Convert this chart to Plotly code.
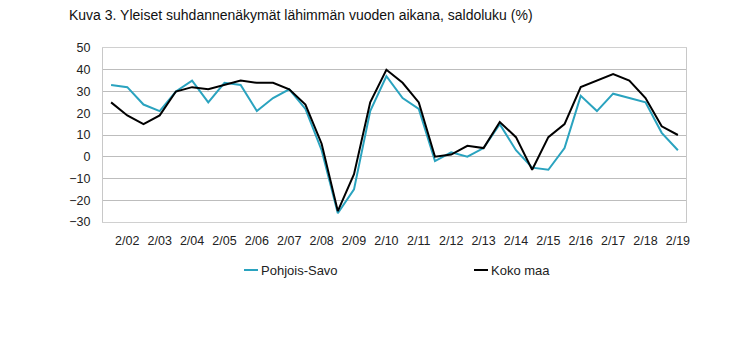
import plotly.graph_objects as go

# Survey rounds: August and February of each year, 8/01 ... 2/19
periods = ["8/01"]
for yr in range(2, 20):
    periods.append(f"2/{yr:02d}")
    if yr < 19:
        periods.append(f"8/{yr:02d}")

# Balance figures (%) for the next 12 months outlook
pohjois_savo = [33, 32, 24, 21, 30, 35, 25, 34, 33, 21, 27, 31,
                22, 3, -26, -15, 21, 37, 27, 22, -2, 2, 0, 4,
                15, 3, -5, -6, 4, 28, 21, 29, 27, 25, 11, 3]
koko_maa = [25, 19, 15, 19, 30, 32, 31, 33, 35, 34, 34, 31,
            24, 6, -25, -8, 25, 40, 34, 25, 0, 1, 5, 4,
            16, 9, -6, 9, 15, 32, 35, 38, 35, 27, 14, 10]

series = [("Pohjois-Savo", pohjois_savo, "#2aa3bf"),
          ("Koko maa", koko_maa, "#000000")]

tick_periods = [p for p in periods if p.startswith("2/")]
y_ticks = list(range(-30, 51, 10))

FONT = "Liberation Sans, Arial, sans-serif"
W, H = 750, 349
ML, MR, MT, MB = 103, 64, 48, 127
PLOT_H = H - MT - MB
PLOT_W = W - ML - MR


def px_x(px):
    return (px - ML) / PLOT_W


def px_y(py):
    return 1 - (py - MT) / PLOT_H


fig = go.Figure()
for name, vals, color in series:
    fig.add_trace(go.Scatter(x=periods, y=vals, name=name, mode="lines",
                             line=dict(color=color, width=2), showlegend=False))

# Compact legend below the plot: short line key followed by the series name
legend_y = 270
legend_x0 = [244, 474]
shapes, annotations = [], []
for (name, _, color), x0 in zip(series, legend_x0):
    shapes.append(dict(type="line", xref="paper", yref="paper",
                       x0=px_x(x0), x1=px_x(x0 + 14),
                       y0=px_y(legend_y), y1=px_y(legend_y),
                       line=dict(color=color, width=2)))
    annotations.append(dict(text=name, xref="paper", yref="paper",
                            x=px_x(x0 + 15), y=px_y(legend_y),
                            xanchor="left", yanchor="middle", showarrow=False,
                            font=dict(size=13, color="#222", family=FONT)))

annotations.append(dict(text="Kuva 3. Yleiset suhdannenäkymät lähimmän vuoden aikana, saldoluku (%)",
                        xref="paper", yref="paper",
                        x=px_x(67), y=px_y(15),
                        xanchor="left", yanchor="middle", showarrow=False,
                        font=dict(size=14, color="#111", family=FONT)))

fig.update_layout(
    width=W, height=H,
    margin=dict(l=ML, r=MR, t=MT, b=MB),
    paper_bgcolor="white", plot_bgcolor="white",
    font=dict(family=FONT, size=12, color="#222"),
    showlegend=False,
    shapes=shapes,
    annotations=annotations,
)

fig.update_xaxes(type="category", categoryorder="array", categoryarray=periods,
                 range=[-0.5, len(periods) - 0.5],
                 tickvals=tick_periods, ticktext=tick_periods,
                 showgrid=False, zeroline=False, ticks="",
                 showline=True, linecolor="#d0d0d0", linewidth=1, mirror=True,
                 tickfont=dict(size=12.5, color="#222"), ticklabelstandoff=7)
fig.update_yaxes(range=[-30, 50], tickvals=y_ticks,
                 showgrid=True, gridcolor="#bdbdbd", gridwidth=1,
                 zeroline=False, ticks="",
                 showline=True, linecolor="#c8c8c8", linewidth=1, mirror=True,
                 tickfont=dict(size=12.5, color="#222"), ticklabelstandoff=9)

fig.write_html("out.html")
